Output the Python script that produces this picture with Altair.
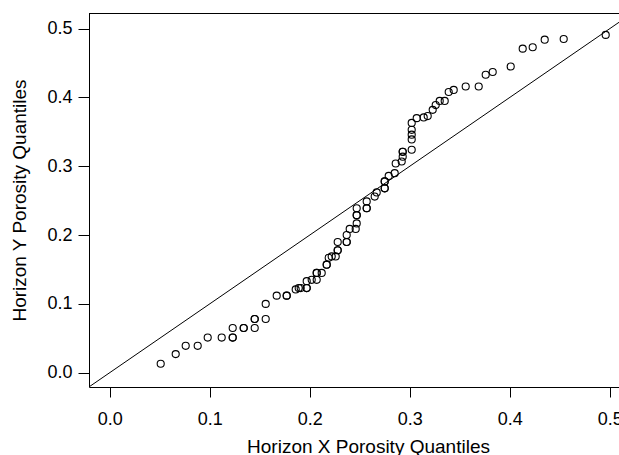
import altair as alt
import pandas as pd

# Quantile pairs (sorted)
x_quantiles = [
    0.051, 0.066, 0.076, 0.088, 0.098, 0.112, 0.123, 0.123, 0.123, 0.134,
    0.134, 0.145, 0.145, 0.145, 0.156, 0.156, 0.167, 0.177, 0.177, 0.186,
    0.189, 0.191, 0.197, 0.197, 0.197, 0.202, 0.207, 0.207, 0.207, 0.212,
    0.217, 0.217, 0.219, 0.222, 0.226, 0.228, 0.228, 0.228, 0.237, 0.237,
    0.237, 0.240, 0.246, 0.247, 0.247, 0.247, 0.247, 0.257, 0.257, 0.257,
    0.265, 0.267, 0.275, 0.275, 0.275, 0.275, 0.279, 0.285, 0.286, 0.292,
    0.293, 0.293, 0.293, 0.302, 0.302, 0.302, 0.302, 0.302, 0.307, 0.314,
    0.318, 0.323, 0.326, 0.330, 0.335, 0.339, 0.344, 0.356, 0.369, 0.376,
    0.383, 0.401, 0.413, 0.423, 0.435, 0.454, 0.496,
]
y_quantiles = [
    0.013, 0.027, 0.039, 0.039, 0.051, 0.051, 0.051, 0.051, 0.065, 0.065,
    0.065, 0.065, 0.078, 0.078, 0.078, 0.100, 0.112, 0.112, 0.112, 0.121,
    0.123, 0.123, 0.123, 0.123, 0.133, 0.135, 0.135, 0.145, 0.145, 0.145,
    0.157, 0.157, 0.167, 0.169, 0.169, 0.178, 0.178, 0.190, 0.190, 0.190,
    0.200, 0.209, 0.209, 0.217, 0.229, 0.229, 0.239, 0.239, 0.239, 0.249,
    0.256, 0.262, 0.268, 0.268, 0.278, 0.278, 0.286, 0.290, 0.304, 0.307,
    0.314, 0.321, 0.321, 0.324, 0.339, 0.346, 0.353, 0.363, 0.370, 0.371,
    0.373, 0.382, 0.389, 0.395, 0.395, 0.408, 0.411, 0.416, 0.416, 0.433,
    0.437, 0.445, 0.471, 0.473, 0.484, 0.485, 0.491,
]

x_domain = [-0.0207, 0.5093]
y_domain = [-0.0208, 0.5228]
tick_values = [0.0, 0.1, 0.2, 0.3, 0.4, 0.5]
line_ends = [-0.03, 0.6]

W, H = 530, 374
FONT = "Liberation Sans"

pts = pd.DataFrame({"x": x_quantiles, "y": y_quantiles})
ref = pd.DataFrame({"x": line_ends, "y": line_ends})

xscale = alt.Scale(domain=x_domain, nice=False, zero=False)
yscale = alt.Scale(domain=y_domain, nice=False, zero=False)

xaxis = alt.Axis(
    title="Horizon X Porosity Quantiles", values=tick_values, format=".1f",
    grid=False, tickSize=10, labelPadding=13, labelFontSize=18,
    labelFont=FONT, labelColor="black", domainColor="black", tickColor="black",
    titleFont=FONT, titleFontSize=19, titleFontWeight="normal", titleColor="black",
    titleX=279, titleY=65, titleAlign="center", titleBaseline="alphabetic",
    labelFlush=False, labelOverlap=False,
)
yaxis = alt.Axis(
    title="Horizon Y Porosity Quantiles", values=tick_values, format=".1f",
    grid=False, tickSize=11, labelPadding=6, labelFontSize=18,
    labelFont=FONT, labelColor="black", labelAngle=0, labelAlign="right",
    labelBaseline="middle", domainColor="black", tickColor="black",
    titleFont=FONT, titleFontSize=19, titleFontWeight="normal", titleColor="black",
    titleX=-64, titleY=187, titleAngle=270, titleAlign="center",
    titleBaseline="alphabetic", labelFlush=False, labelOverlap=False,
)

points = alt.Chart(pts).mark_point(
    shape="circle", filled=False, color="black", size=50, strokeWidth=1.1, opacity=1
).encode(
    x=alt.X("x:Q", scale=xscale, axis=xaxis),
    y=alt.Y("y:Q", scale=yscale, axis=yaxis),
)

diag = alt.Chart(ref).mark_line(color="black", strokeWidth=1, clip=True).encode(
    x=alt.X("x:Q", scale=xscale),
    y=alt.Y("y:Q", scale=yscale),
)

top_border = alt.Chart(alt.Data(values=[{}])).mark_rule(
    color="black", strokeWidth=1
).encode(x=alt.value(0), x2=alt.value(W), y=alt.value(0.5))

chart = alt.layer(diag, points, top_border).properties(
    width=W, height=H,
    autosize=alt.AutoSizeParams(type="none"),
    padding={"left": 89, "top": 13, "right": 0, "bottom": 68},
    background="white",
).configure_view(stroke=None)

chart.save("out.html", embed_options={"renderer": "svg", "actions": False})
